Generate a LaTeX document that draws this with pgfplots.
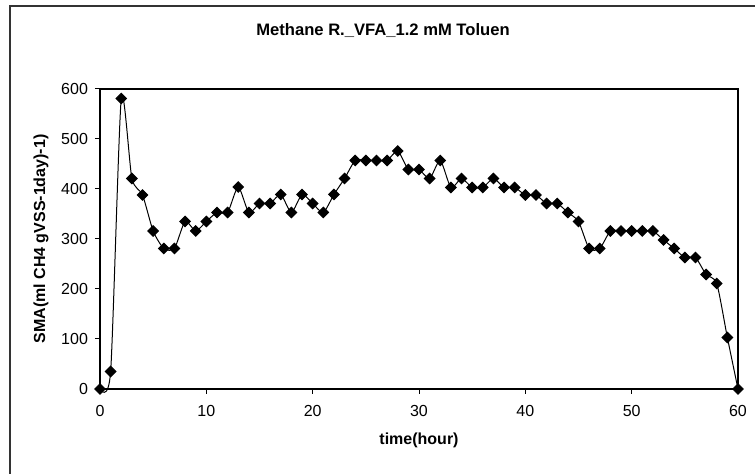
\documentclass[border=0pt]{standalone}
\usepackage{pgfplots}
\pgfplotsset{compat=1.18}
\usepackage{fontspec}
\setmainfont{Liberation Sans}

\begin{document}
\begin{tikzpicture}
    \path[use as bounding box] (0,0) rectangle (377.5pt,237pt);
    % outer chart frame (right and bottom fall outside the picture)
    \draw[line width=0.8pt, black!80] (5pt,-2pt) -- (5pt,234pt) -- (380pt,234pt);
    \node[font=\fontsize{8.3}{10}\selectfont\bfseries] at (191.5pt,221.5pt) {Methane R.\_VFA\_1.2 mM Toluen};
    \begin{axis}[
        at={(50pt,42.5pt)},
        anchor=south west,
        scale only axis,
        width=319pt,
        height=150pt,
        xmin=0, xmax=60,
        ymin=0, ymax=600,
        xtick={0,10,...,60},
        ytick={0,100,...,600},
        tick align=outside,
        xtick pos=bottom,
        ytick pos=left,
        major tick length=2.5pt,
        axis line style={line width=0.6pt},
        tick style={line width=0.5pt, black},
        tick label style={font=\fontsize{8}{9.6}\selectfont},
        xticklabel style={yshift=-2pt},
        /pgf/number format/assume math mode=true,
        xlabel={\bfseries time(hour)},
        ylabel={\bfseries SMA(ml CH4 gVSS-1day)-1)},
        label style={font=\fontsize{8}{9.6}\selectfont},
        xlabel style={at={(axis description cs:0.5,-0.17)}, anchor=center},
        ylabel style={at={(axis description cs:-0.0925,0.5)}, anchor=center},
        clip=false,
    ]
        \addplot[black, line width=0.5pt, smooth, tension=0.4,
            mark=square*, mark size=1.85pt, mark options={rotate=45, solid}]
        coordinates {
            (0,0) (1,35) (2,581) (3,421) (4,388) (5,316) (6,281) (7,281)
            (8,335) (9,316) (10,335) (11,353) (12,353) (13,404) (14,353)
            (15,371) (16,371) (17,389) (18,353) (19,389) (20,371) (21,353)
            (22,389) (23,421) (24,457) (25,457) (26,457) (27,457) (28,476)
            (29,439) (30,439) (31,421) (32,457) (33,403) (34,421) (35,403)
            (36,403) (37,421) (38,403) (39,403) (40,388) (41,388) (42,371)
            (43,371) (44,353) (45,335) (46,281) (47,281) (48,316) (49,316)
            (50,316) (51,316) (52,316) (53,298) (54,281) (55,263) (56,263)
            (57,229) (58,211) (59,103) (60,0)
        };
    \end{axis}
\end{tikzpicture}
\end{document}
